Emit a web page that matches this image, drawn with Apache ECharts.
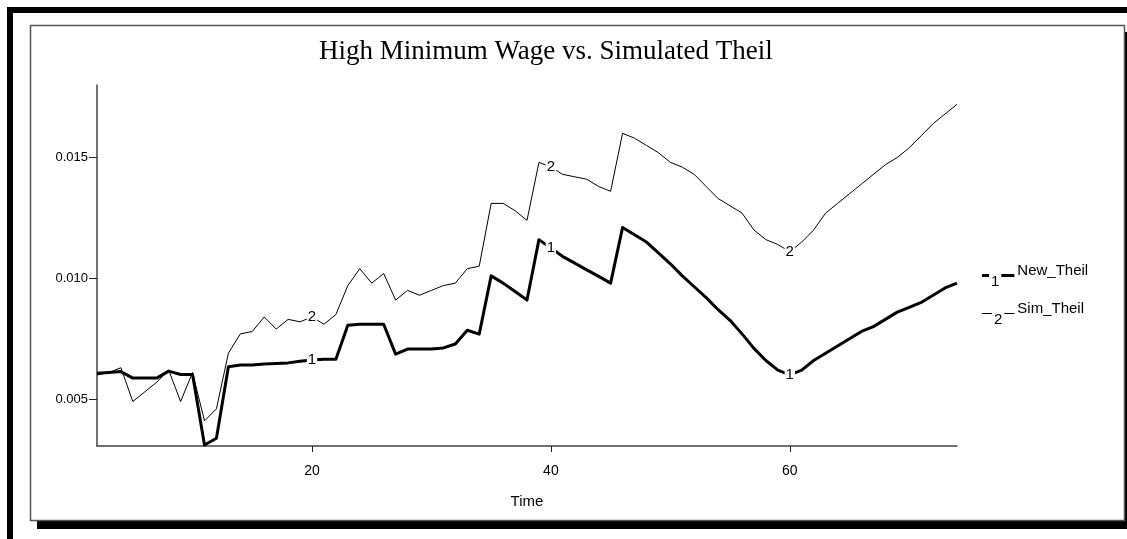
<!DOCTYPE html>
<html>
<head>
<meta charset="utf-8">
<title>High Minimum Wage vs. Simulated Theil</title>
<script src="https://cdn.jsdelivr.net/npm/echarts@6/dist/echarts.min.js"></script>
<style>
  html, body { margin: 0; padding: 0; background: #fff; }
  #chart { width: 1127px; height: 539px; }
</style>
</head>
<body>
<div id="chart"></div>
<script>
// time steps
const times = [2, 3, 4, 5, 6, 7, 8, 9, 10, 11, 12, 13, 14, 15, 16, 17, 18, 19, 20,
  21, 22, 23, 24, 25, 26, 27, 28, 29, 30, 31, 32, 33, 34, 35, 36, 37, 38, 39, 40,
  41, 42, 43, 44, 45, 46, 47, 48, 49, 50, 51, 52, 53, 54, 55, 56, 57, 58, 59, 60,
  61, 62, 63, 64, 65, 66, 67, 68, 69, 70, 71, 72, 73, 74]

// 1: New_Theil (thick line)
const newTheil = [0.00607, 0.00610, 0.00614, 0.00587, 0.00587, 0.00587, 0.00616, 0.00602, 0.00602,
  0.00310, 0.00338, 0.00634, 0.00641, 0.00641, 0.00645, 0.00647, 0.00650, 0.00657, 0.00662,
  0.00665, 0.00665, 0.00806, 0.00810, 0.00810, 0.00810, 0.00686, 0.00707, 0.00707, 0.00707,
  0.00712, 0.00728, 0.00785, 0.00769, 0.01010, 0.00980, 0.00945, 0.00910, 0.01160, 0.01125,
  0.01090, 0.01063, 0.01035, 0.01008, 0.00980, 0.01210, 0.01180, 0.01150, 0.01105, 0.01060,
  0.01010, 0.00965, 0.00920, 0.00870, 0.00826, 0.00770, 0.00710, 0.00660, 0.00620, 0.00600,
  0.00620, 0.00660, 0.00690, 0.00720, 0.00750, 0.00780, 0.00800, 0.00830, 0.00860, 0.00880,
  0.00900, 0.00930, 0.00960, 0.00980]

// 2: Sim_Theil (thin line)
const simTheil = [0.00600, 0.00610, 0.00630, 0.00490, 0.00530, 0.00570, 0.00620, 0.00490, 0.00610,
  0.00410, 0.00460, 0.00690, 0.00770, 0.00780, 0.00840, 0.00790, 0.00830, 0.00820, 0.00840,
  0.00810, 0.00850, 0.00970, 0.01040, 0.00980, 0.01020, 0.00910, 0.00950, 0.00930, 0.00950,
  0.00970, 0.00980, 0.01040, 0.01050, 0.01310, 0.01310, 0.01280, 0.01240, 0.01480, 0.01460,
  0.01430, 0.01420, 0.01410, 0.01380, 0.01360, 0.01600, 0.01580, 0.01550, 0.01520, 0.01480,
  0.01460, 0.01430, 0.01380, 0.01330, 0.01300, 0.01270, 0.01200, 0.01160, 0.01140, 0.01110,
  0.01150, 0.01200, 0.01270, 0.01310, 0.01350, 0.01390, 0.01430, 0.01470, 0.01500, 0.01540,
  0.01590, 0.01640, 0.01680, 0.01720]

const xTicks = [20, 40, 60]
const yTicks = [0.005, 0.010, 0.015]
const labelTimes = [20, 40, 60]

const chart = echarts.init(document.getElementById('chart'))

// number marker "1"/"2" on the line at t = 20, 40, 60
const buildData = (values, mark) => times.map((t, i) => {
  if (labelTimes.indexOf(t) < 0) return [t, values[i]]
  return {
    value: [t, values[i]],
    label: {
      show: true,
      position: 'inside',
      formatter: mark,
      fontFamily: 'Liberation Sans',
      fontSize: 15,
      color: '#000',
      backgroundColor: '#fff',
      padding: [0, 1]
    }
  }
})

const option = {
  backgroundColor: '#fff',
  animation: false,
  graphic: [
    // window frame
    { type: 'rect', shape: { x: 7, y: 7, width: 1120, height: 6 }, style: { fill: '#000' }, silent: true, z: -10 },
    { type: 'rect', shape: { x: 7, y: 7, width: 6, height: 532 }, style: { fill: '#000' }, silent: true, z: -10 },
    // panel shadow + panel
    { type: 'rect', shape: { x: 37, y: 32, width: 1095, height: 497 }, style: { fill: '#000' }, silent: true, z: -10 },
    { type: 'rect', shape: { x: 30.5, y: 25.5, width: 1094, height: 495 }, style: { fill: '#fff', stroke: '#555', lineWidth: 1.5 }, silent: true, z: -9 }
  ],
  title: {
    text: 'High Minimum Wage vs. Simulated Theil',
    left: 314,
    top: 33,
    padding: 5,
    textStyle: {
      fontFamily: 'Liberation Serif',
      fontWeight: 'normal',
      fontSize: 27,
      color: '#000'
    }
  },
  legend: {
    orient: 'vertical',
    left: 971,
    top: 258,
    itemGap: 12,
    icon: 'none',
    itemWidth: 1,
    itemHeight: 1,
    selectedMode: false,
    data: ['New_Theil', 'Sim_Theil'],
    formatter: name => name === 'New_Theil'
      ? '{a| }{n|1}{b| }{t|New_Theil}'
      : '{c| }{n|2}{d| }{t|Sim_Theil}',
    textStyle: {
      rich: {
        a: { width: 7, height: 3, backgroundColor: '#000' },
        b: { width: 13, height: 3, backgroundColor: '#000' },
        c: { width: 10, height: 1, backgroundColor: '#000' },
        d: { width: 10, height: 1, backgroundColor: '#000' },
        n: { fontFamily: 'Liberation Sans', fontSize: 15, color: '#000', padding: [12, 2, 0, 2] },
        t: { fontFamily: 'Liberation Sans', fontSize: 15, color: '#000', padding: [0, 0, 10, 3] }
      }
    }
  },
  grid: {
    left: 97,
    right: 170,
    top: 85,
    bottom: 93
  },
  xAxis: {
    type: 'value',
    min: 2,
    max: 74,
    name: 'Time',
    nameLocation: 'middle',
    nameGap: 48,
    nameTextStyle: { fontFamily: 'Liberation Sans', fontSize: 15, color: '#000' },
    axisLine: { lineStyle: { color: '#444', width: 1.5 } },
    axisTick: { customValues: xTicks, length: 6, lineStyle: { color: '#222' } },
    axisLabel: {
      customValues: xTicks,
      margin: 18,
      fontFamily: 'Liberation Sans',
      fontSize: 14,
      color: '#000'
    },
    splitLine: { show: false }
  },
  yAxis: {
    type: 'value',
    min: 0.00306,
    max: 0.0180,
    axisLine: { show: true, lineStyle: { color: '#444', width: 1.5 } },
    axisTick: { show: true, customValues: yTicks, length: 8, lineStyle: { color: '#222' } },
    axisLabel: {
      customValues: yTicks,
      margin: 9,
      formatter: v => v.toFixed(3),
      fontFamily: 'Liberation Sans',
      fontSize: 13,
      color: '#000'
    },
    splitLine: { show: false }
  },
  series: [
    {
      name: 'Sim_Theil',
      type: 'line',
      data: buildData(simTheil, '2'),
      symbol: 'circle',
      symbolSize: 0,
      showSymbol: true,
      color: '#000',
      lineStyle: { color: '#000', width: 1 },
      emphasis: { disabled: true },
      z: 2
    },
    {
      name: 'New_Theil',
      type: 'line',
      data: buildData(newTheil, '1'),
      symbol: 'circle',
      symbolSize: 0,
      showSymbol: true,
      color: '#000',
      lineStyle: { color: '#000', width: 3, join: 'round' },
      emphasis: { disabled: true },
      z: 3
    }
  ]
}

chart.setOption(option)
</script>
</body>
</html>
